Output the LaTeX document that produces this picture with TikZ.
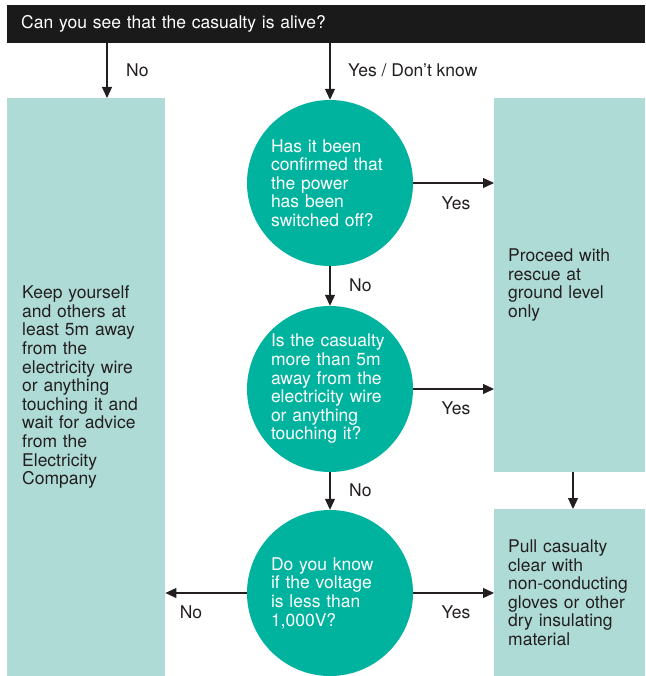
\documentclass[tikz,border=0pt]{standalone}
\usepackage{fontspec}
\setmainfont{TeX Gyre Heros}
\usetikzlibrary{arrows.meta}
\definecolor{teal}{HTML}{00B39E}
\definecolor{pale}{HTML}{AEDBD6}
\definecolor{ink}{HTML}{231F20}
\definecolor{barc}{HTML}{1A1A1A}
\tikzset{
  txt/.style={font=\fontsize{17.5}{18.6}\selectfont},
  panel/.style={txt, fill=pale, text=ink, align=left, inner ysep=0pt, anchor=north west},
  question/.style={txt, circle, fill=teal, text=white, align=left, text width=118pt, minimum size=166pt, inner sep=0pt},
  lbl/.style={txt, text=ink, inner sep=0pt},
  arr/.style={draw=ink, line width=1.1pt, -{Triangle[length=11pt,width=10pt]}}
}
\begin{document}
\begin{tikzpicture}[x=1pt,y=-1pt]
\useasboundingbox (0,0) rectangle (645,676);
\node[txt, fill=barc, text=white, anchor=north west, minimum width=638pt, minimum height=38pt, text width=610pt, inner xsep=14pt, inner ysep=0pt, align=left] (bar) at (7,5) {Can you see that the casualty is alive?};
\node[panel, minimum width=158pt, minimum height=578pt, text width=128pt, inner xsep=15pt] (lbox) at (7,98)
  {Keep yourself\\and others at\\least 5m away\\from the\\electricity wire\\or anything\\touching it and\\wait for advice\\from the\\Electricity\\Company};
\node[panel, minimum width=151pt, minimum height=374pt, text width=123pt, inner xsep=14pt] (rbox1) at (494,98)
  {Proceed with\\rescue at\\ground level\\only};
\node[panel, minimum width=151pt, minimum height=167pt, text width=123pt, inner xsep=14pt] (rbox2) at (494,509)
  {Pull casualty\\clear with\\\mbox{non-conducting}\\gloves or other\\dry insulating\\material};
\node[question] (c1) at (330,183) {Has it been\\confirmed that\\the power\\has been\\switched off?};
\node[question] (c2) at (330,389) {Is the casualty\\more than 5m\\away from the\\electricity wire\\or anything\\touching it?};
\node[question] (c3) at (330,593) {Do you know\\if the voltage\\is less than\\1,000V?};
\coordinate (lx) at (107,0);
\coordinate (rx) at (573,0);
\draw[arr] (bar.south -| lx) -- (lbox.north -| lx);
\draw[arr] (bar.south -| c1.north) -- (c1.north);
\draw[arr] (c1.east) -- (c1.east -| rbox1.west);
\draw[arr] (c2.east) -- (c2.east -| rbox1.west);
\draw[arr] (c1.south) -- (c2.north);
\draw[arr] (c2.south) -- (c3.north);
\draw[arr] (c3.west) -- (c3.west -| lbox.east);
\draw[arr] (c3.east) -- (c3.east -| rbox2.west);
\draw[arr] (rbox1.south -| rx) -- (rbox2.north -| rx);
\node[lbl, anchor=west] (l1) at (126,70) {No};
\node[lbl, anchor=west] (l2) at (348,70) {Yes / Don’t know};
\node[lbl] (l3) at (456,203) {Yes};
\node[lbl, anchor=west] (l4) at (349,285) {No};
\node[lbl] (l5) at (456,408) {Yes};
\node[lbl, anchor=west] (l6) at (349,490) {No};
\node[lbl] (l7) at (191,612) {No};
\node[lbl] (l8) at (456,612) {Yes};
\end{tikzpicture}
\end{document}
